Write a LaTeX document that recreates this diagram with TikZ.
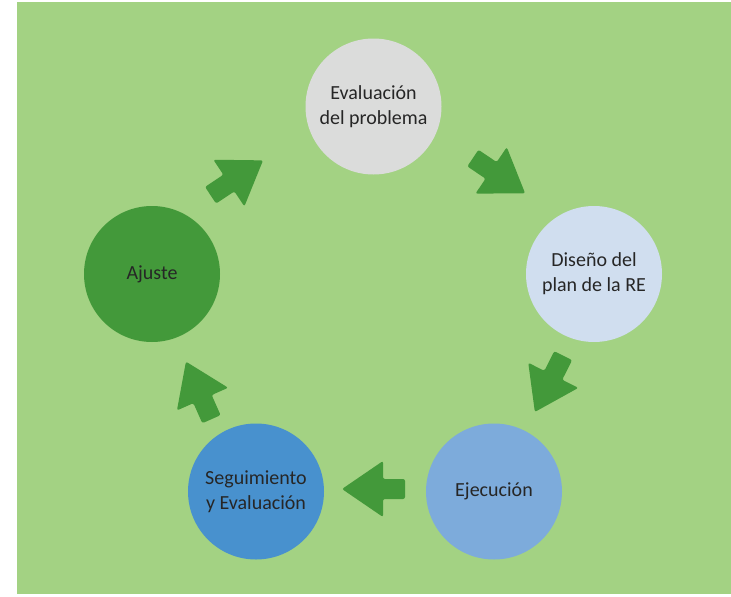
\documentclass[tikz,border=0pt]{standalone}
\usepackage{fontspec}
\setmainfont{Carlito}

\definecolor{fondo}{HTML}{A3D283}
\definecolor{verde}{HTML}{43993A}
\definecolor{gris}{HTML}{DBDCDB}
\definecolor{azulclaro}{HTML}{D0DEEF}
\definecolor{azulmedio}{HTML}{7DABDB}
\definecolor{azul}{HTML}{4891CE}
\definecolor{texto}{HTML}{262626}

\begin{document}
\begin{tikzpicture}[x=1pt,y=-1pt,
  etapa/.style={circle,minimum size=136pt,inner sep=0pt,
    align=center,text=texto,font=\fontsize{20}{25}\selectfont},
  flecha/.pic={\fill[verde,rounded corners=2pt] (-31.5,-10) -- (-9.5,-10) -- (-9.5,-28)
    -- (31.5,0) -- (-9.5,28) -- (-9.5,10) -- (-31.5,10) -- cycle;}]
\useasboundingbox (0,0) rectangle (731,597);
\fill[fondo] (17,2) rectangle (731,594);

% etapas del ciclo
\node[etapa,fill=gris] (eval) at (373.5,106.5) {Evaluación\\del problema};
\node[etapa,fill=azulclaro] (dis) at (594,274) {Diseño del\\plan de la RE};
\node[etapa,fill=azulmedio] (eje) at (494,491.5) {Ejecución};
\node[etapa,fill=azul] (seg) at (256,491.5) {Seguimiento\\y Evaluación};
\node[etapa,fill=verde] (aju) at (152,274) {Ajuste};

% flechas
\pic[rotate=33.6] (f1) at (236.8,177.8) {flecha};
\pic[rotate=-34] (f2) at (499,175.7) {flecha};
\pic[rotate=243.3] (f3) at (549,383.8) {flecha};
\pic[rotate=180] (f4) at (373.5,489) {flecha};
\pic[rotate=113.9] (f5) at (198.7,390.4) {flecha};
\end{tikzpicture}
\end{document}
